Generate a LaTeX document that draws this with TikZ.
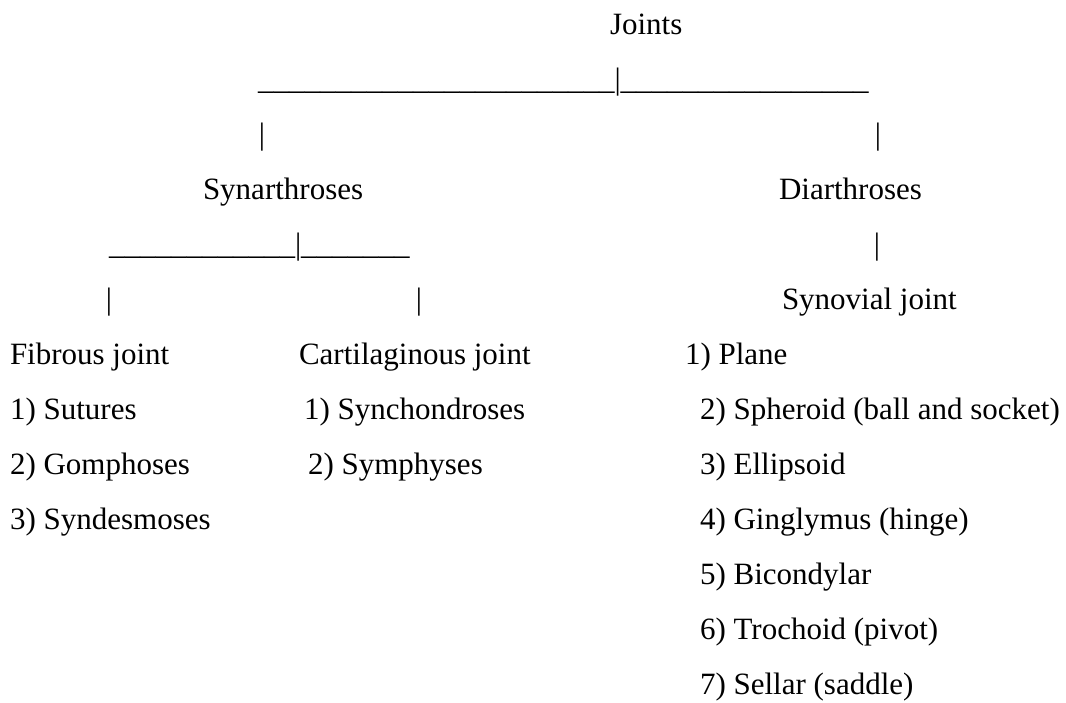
\documentclass[tikz,border=0pt]{standalone}
\usepackage{fontspec}
\setmainfont{Liberation Serif}
\usepackage{tikz}
\newcommand{\unders}[1]{\foreach \k in {1,...,#1}{\_}}
\tikzset{
  txt/.style={anchor=base west, inner sep=0pt, outer sep=0pt},
  pipe/.style={anchor=base, inner sep=0pt, outer sep=0pt}
}

\begin{document}
\begin{tikzpicture}[x=1pt, y=-1pt, every node/.style={font=\fontsize{31}{37}\selectfont}]
  % Page
  \path[fill=white] (0,0) rectangle (1066,702);

  % Root and first split
  \node[txt] (joints) at (610,34) {Joints};
  \node[txt] (topbar) at (258,89) {\unders{23}|\unders{16}};
  \node[pipe] (pipeSyn) at (262,144) {|};
  \node[pipe] (pipeDia) at (878,144) {|};

  % Second level
  \node[txt] (synar) at (203,199) {Synarthroses};
  \node[txt] (diar) at (779,199) {Diarthroses};

  % Split under Synarthroses
  \node[txt] (synbar) at (109,254) {\unders{12}|\unders{7}};
  \node[pipe] (pipeSynov) at (877,254) {|};
  \node[pipe] (pipeFib) at (109,309) {|};
  \node[pipe] (pipeCart) at (419,309) {|};
  \node[txt] (synov) at (782,309) {Synovial joint};

  % Fibrous joint
  \node[txt] (fib) at (10,364) {Fibrous joint};
  \node[txt] (fib1) at (10,419) {1) Sutures};
  \node[txt] (fib2) at (10,474) {2) Gomphoses};
  \node[txt] (fib3) at (10,529) {3) Syndesmoses};

  % Cartilaginous joint
  \node[txt] (cart) at (299,364) {Cartilaginous joint};
  \node[txt] (cart1) at (304,419) {1) Synchondroses};
  \node[txt] (cart2) at (308,474) {2) Symphyses};

  % Synovial joint types
  \node[txt] (syn1) at (685,364) {1) Plane};
  \node[txt] (syn2) at (700,419) {2) Spheroid (ball and socket)};
  \node[txt] (syn3) at (700,474) {3) Ellipsoid};
  \node[txt] (syn4) at (700,529) {4) Ginglymus (hinge)};
  \node[txt] (syn5) at (700,584) {5) Bicondylar};
  \node[txt] (syn6) at (700,639) {6) Trochoid (pivot)};
  \node[txt] (syn7) at (700,694) {7) Sellar (saddle)};
\end{tikzpicture}
\end{document}
